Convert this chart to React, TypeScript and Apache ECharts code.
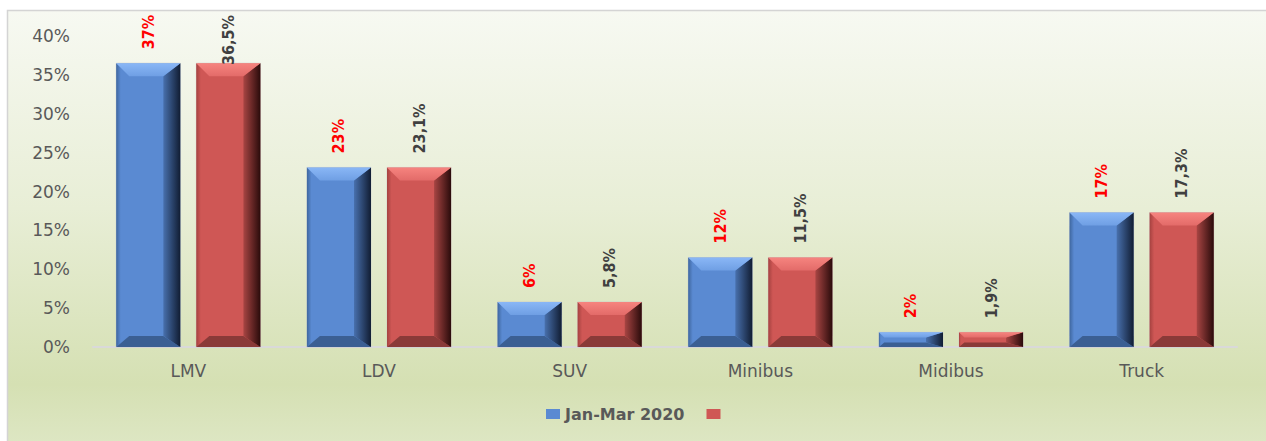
import React, { useEffect, useRef } from "react";
import * as echarts from "echarts";

const categories = ["LMV", "LDV", "SUV", "Minibus", "Midibus", "Truck"];
const janMar2020 = [36.5, 23.1, 5.8, 11.5, 1.9, 17.3];
const secondSeries = [36.5, 23.1, 5.8, 11.5, 1.9, 17.3];
const yTicks = { min: 0, max: 40, interval: 5 };
const seriesNames = ["Jan-Mar 2020", " "];

const palettes = [
  {
    main: "#5a8ad2",
    topA: "#8ab7f6",
    topB: "#6f9fe4",
    leftA: "#3f679f",
    bottom: "#3b5f93",
    rightA: "#4870ad",
    rightB: "#111d33",
    label: "#ff0000",
  },
  {
    main: "#cf5755",
    topA: "#f6847f",
    topB: "#e36b69",
    leftA: "#a54240",
    bottom: "#8a3a38",
    rightA: "#a84543",
    rightB: "#2a0b0b",
    label: "#404040",
  },
];

const labelFont = "'DejaVu Sans Condensed', 'Liberation Sans Narrow', 'Open Sans', sans-serif";

function makeRenderItem(seriesIdx: number) {
  return (params: any, api: any) => {
    const ci = api.value(0);
    const v = api.value(1);
    const base = api.coord([ci, 0]);
    const topPt = api.coord([ci, v]);
    const band = api.size([1, 0])[0];
    const w = band * 0.336;
    const gap = w * 0.25;
    const cx = base[0] + (seriesIdx === 0 ? -1 : 1) * (w + gap) / 2;
    const x0 = cx - w / 2;
    const x1 = cx + w / 2;
    const yt = topPt[1];
    const yb = base[1];
    const h = yb - yt;
    const s = Math.min(1, h / 36);
    const bt = 13 * s;
    const bb = 11 * s;
    const bl = 13 * s;
    const br = 17;
    const p = palettes[seriesIdx];
    const text = seriesIdx === 0 ? Math.round(v) + "%" : v.toFixed(1).replace(".", ",") + "%";
    const len = text.length * 9.4;
    const anchorY = Math.max(yt - 14, 18 + len);
    return {
      type: "group",
      children: [
        {
          type: "rect",
          shape: { x: x0, y: yt, width: w, height: h },
          style: { fill: p.main, stroke: "#c8c8c8", lineWidth: 0.6 },
        },
        {
          type: "polygon",
          shape: { points: [[x0, yt], [x0 + bl, yt + bt], [x0 + bl, yb - bb], [x0, yb]] },
          style: {
            fill: new echarts.graphic.LinearGradient(0, 0, 1, 0, [
              { offset: 0, color: p.leftA },
              { offset: 0.35, color: p.main },
              { offset: 1, color: p.main },
            ]),
          },
        },
        {
          type: "polygon",
          shape: { points: [[x0, yb], [x1, yb], [x1 - br, yb - bb], [x0 + bl, yb - bb]] },
          style: { fill: p.bottom },
        },
        {
          type: "polygon",
          shape: { points: [[x1, yt], [x1, yb], [x1 - br, yb - bb], [x1 - br, yt + bt]] },
          style: {
            fill: new echarts.graphic.LinearGradient(0, 0, 1, 0, [
              { offset: 0, color: p.rightA },
              { offset: 1, color: p.rightB },
            ]),
          },
        },
        {
          type: "polygon",
          shape: { points: [[x0, yt], [x1, yt], [x1 - br, yt + bt], [x0 + bl, yt + bt]] },
          style: {
            fill: new echarts.graphic.LinearGradient(0, 0, 0, 1, [
              { offset: 0, color: p.topA },
              { offset: 1, color: p.topB },
            ]),
          },
        },
        {
          type: "text",
          x: cx,
          y: anchorY,
          rotation: Math.PI / 2,
          style: {
            text,
            fill: p.label,
            fontSize: 16,
            fontWeight: "bold",
            fontFamily: labelFont,
            align: "left",
            verticalAlign: "middle",
          },
        },
      ],
    };
  };
}

export default function App() {
  const ref = useRef<HTMLDivElement>(null);
  useEffect(() => {
    if (!ref.current) return;
    const chart = echarts.init(ref.current, null, { renderer: "svg" });
    const dataSets = [janMar2020, secondSeries];
    chart.setOption({
      animation: false,
      backgroundColor: "#ffffff",
      graphic: [
        {
          type: "rect",
          z: -10,
          silent: true,
          shape: { x: 7.5, y: 10.5, width: 1270, height: 440 },
          style: {
            fill: new echarts.graphic.LinearGradient(0, 0, 0, 1, [
              { offset: 0, color: "#f7f9f2" },
              { offset: 0.45, color: "#e8eed6" },
              { offset: 0.85, color: "#d5e0b3" },
              { offset: 1, color: "#dee7c5" },
            ]),
            stroke: "#d4d4d4",
            lineWidth: 1.5,
          },
        },
      ],
      grid: { left: 93, right: 29, top: 36, bottom: 94, containLabel: false },
      legend: {
        left: 541,
        top: 401,
        itemWidth: 14,
        itemHeight: 10,
        itemGap: 22,
        icon: "rect",
        data: seriesNames,
        textStyle: {
          color: "#595959",
          fontSize: 16,
          fontWeight: "bold",
          fontFamily: "'DejaVu Sans', sans-serif",
        },
      },
      xAxis: {
        type: "category",
        data: categories,
        axisLine: { show: true, lineStyle: { color: "#d9d9d9", width: 2 } },
        axisTick: { show: false },
        axisLabel: {
          color: "#595959",
          fontSize: 17,
          margin: 15,
          fontFamily: "'DejaVu Sans', sans-serif",
        },
      },
      yAxis: {
        type: "value",
        min: yTicks.min,
        max: yTicks.max,
        interval: yTicks.interval,
        axisLine: { show: false },
        axisTick: { show: false },
        splitLine: { show: false },
        axisLabel: {
          formatter: "{value}%",
          color: "#595959",
          fontSize: 17,
          margin: 23,
          fontFamily: "'DejaVu Sans', sans-serif",
        },
      },
      series: dataSets.map((vals, si) => ({
        type: "custom",
        name: seriesNames[si],
        itemStyle: { color: palettes[si].main },
        encode: { x: 0, y: 1 },
        data: vals.map((v, i) => [i, v]),
        renderItem: makeRenderItem(si),
      })),
    });
    return () => chart.dispose();
  }, []);
  return (
    <div
      ref={ref}
      style={{ position: "fixed", left: 0, top: 0, width: 1266, height: 441 }}
    />
  );
}
